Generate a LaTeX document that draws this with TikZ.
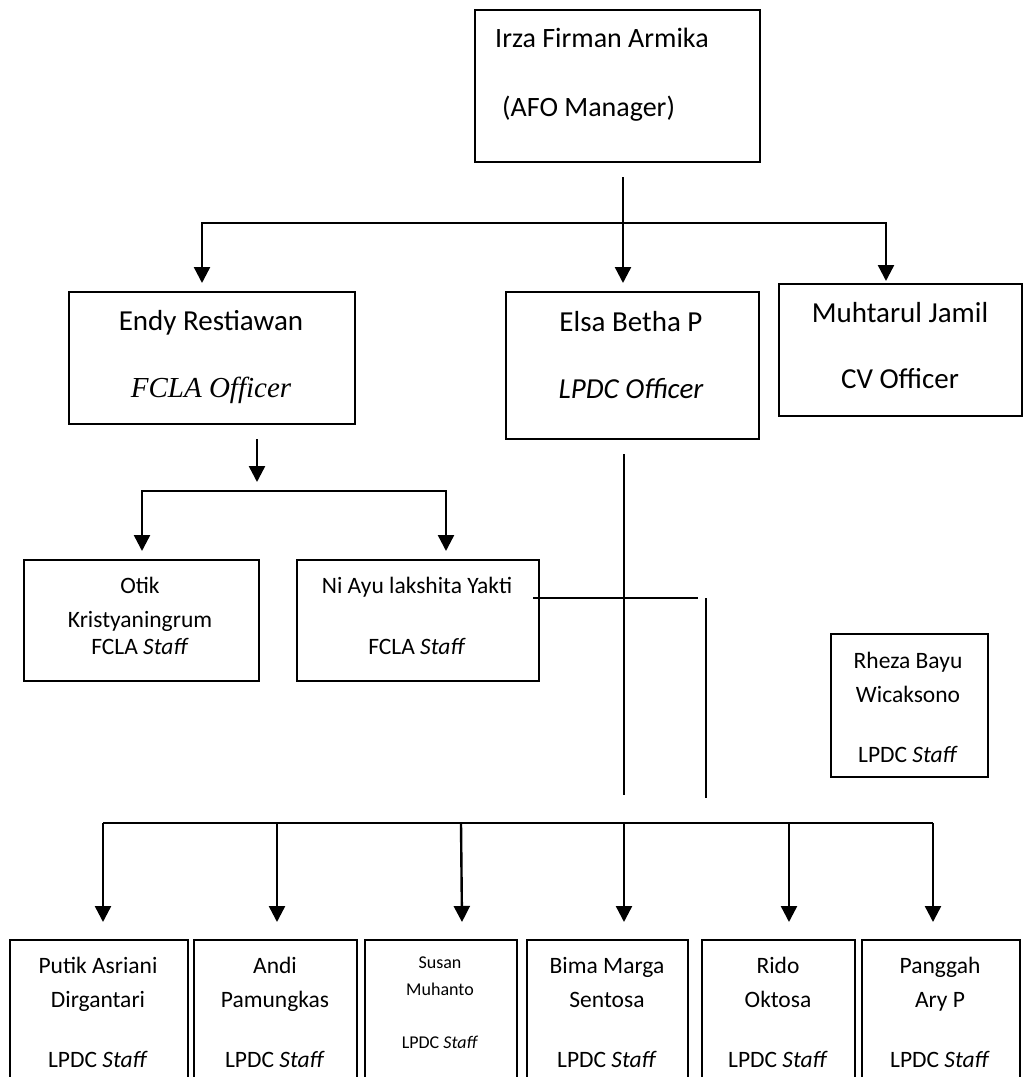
\documentclass[tikz,border=0pt]{standalone}
\usepackage{fontspec}
\setmainfont{Carlito}
\newfontfamily\timesfont{Liberation Serif}
\usetikzlibrary{arrows.meta}
\begin{document}
\begin{tikzpicture}[x=1pt,y=-1pt,
  box/.style={draw, line width=2pt, inner sep=0pt, anchor=north west},
  bigtxt/.style={anchor=base, inner sep=0pt, font=\fontsize{29}{35}\selectfont},
  toptxt/.style={anchor=base west, inner sep=0pt, font=\fontsize{28}{34}\selectfont},
  smalltxt/.style={anchor=base, inner sep=0pt, font=\fontsize{23.5}{28}\selectfont},
  tinytxt/.style={anchor=base, inner sep=0pt, font=\fontsize{18}{22}\selectfont},
  conn/.style={line width=2.4pt},
  arr/.style={line width=2.4pt, -{Triangle[width=16pt,length=16pt]}},
  thinline/.style={line width=1.9pt}]
\useasboundingbox (0,0) rectangle (1023,1077);
\clip (0,0) rectangle (1023,1077);

% boxes
\node[box, minimum width=285pt, minimum height=152pt] (irza) at (474,9) {};
\node[box, minimum width=286pt, minimum height=132pt] (endy) at (68,291) {};
\node[box, minimum width=253pt, minimum height=147pt] (elsa) at (505,291) {};
\node[box, minimum width=243pt, minimum height=132pt] (muht) at (778,283) {};
\node[box, minimum width=235pt, minimum height=121pt] (otik) at (23,559) {};
\node[box, minimum width=242pt, minimum height=121pt] (niayu) at (296,559) {};
\node[box, minimum width=157pt, minimum height=143pt] (rheza) at (830,633) {};
\node[box, minimum width=178pt, minimum height=160pt] (putik) at (9,939) {};
\node[box, minimum width=163pt, minimum height=160pt] (andi) at (193,939) {};
\node[box, minimum width=152pt, minimum height=160pt] (susan) at (364,939) {};
\node[box, minimum width=161pt, minimum height=160pt] (bima) at (526,939) {};
\node[box, minimum width=153pt, minimum height=160pt] (rido) at (701,939) {};
\node[box, minimum width=158pt, minimum height=160pt] (panggah) at (861,939) {};

% texts
\node[toptxt] (irzaA) at (495,47) {Irza Firman Armika};
\node[toptxt] (irzaB) at (502,116) {(AFO Manager)};
\node[bigtxt] (endyA) at (211,330) {Endy Restiawan};
\node[bigtxt] (endyB) at (211,397) {\timesfont\itshape FCLA Officer};
\node[bigtxt] (elsaA) at (631,331) {Elsa Betha P};
\node[bigtxt] (elsaB) at (631,398) {\itshape LPDC Officer};
\node[bigtxt] (muhtA) at (900,322) {Muhtarul Jamil};
\node[bigtxt] (muhtB) at (900,388) {CV Officer};
\node[smalltxt] (otikA) at (140,593) {Otik};
\node[smalltxt] (otikB) at (140,627) {Kristyaningrum};
\node[smalltxt] (otikC) at (140,654) {FCLA \textit{Staff}};
\node[smalltxt] (niA) at (417,593) {Ni Ayu lakshita Yakti};
\node[smalltxt] (niB) at (417,654) {FCLA \textit{Staff}};
\node[smalltxt] (rhA) at (908,668) {Rheza Bayu};
\node[smalltxt] (rhB) at (908,702) {Wicaksono};
\node[smalltxt] (rhC) at (908,762) {LPDC \textit{Staff}};
\node[smalltxt] (puA) at (98,973) {Putik Asriani};
\node[smalltxt] (puB) at (98,1007) {Dirgantari};
\node[smalltxt] (puC) at (98,1067) {LPDC \textit{Staff}};
\node[smalltxt] (anA) at (275,973) {Andi};
\node[smalltxt] (anB) at (275,1007) {Pamungkas};
\node[smalltxt] (anC) at (275,1067) {LPDC \textit{Staff}};
\node[tinytxt] (suA) at (440,968) {Susan};
\node[tinytxt] (suB) at (440,995) {Muhanto};
\node[tinytxt] (suC) at (440,1048) {LPDC \textit{Staff}};
\node[smalltxt] (biA) at (607,973) {Bima Marga};
\node[smalltxt] (biB) at (607,1007) {Sentosa};
\node[smalltxt] (biC) at (607,1067) {LPDC \textit{Staff}};
\node[smalltxt] (riA) at (778,973) {Rido};
\node[smalltxt] (riB) at (778,1007) {Oktosa};
\node[smalltxt] (riC) at (778,1067) {LPDC \textit{Staff}};
\node[smalltxt] (paA) at (940,973) {Panggah};
\node[smalltxt] (paB) at (940,1007) {Ary P};
\node[smalltxt] (paC) at (940,1067) {LPDC \textit{Staff}};

% top connectors
\coordinate (t0) at (623,177);
\coordinate (t1) at (623,223);
\coordinate (aEndy) at (202,283);
\coordinate (aElsa) at (623,283);
\coordinate (aMuh) at (886,281);
\draw[arr] (t1) -| (aEndy);
\draw[arr] (t1) -| (aMuh);
\draw[arr] (t0) -- (aElsa);

% Endy connectors
\coordinate (e0) at (257,439);
\coordinate (e1) at (257,482);
\coordinate (eM) at (294,491);
\coordinate (aOtik) at (142,551);
\coordinate (aNi) at (446,551);
\draw[arr] (e0) -- (e1);
\draw[arr] (eM) -| (aOtik);
\draw[arr] (eM) -| (aNi);

% Elsa connectors
\coordinate (s0) at (624,454);
\coordinate (s1) at (624,795);
\coordinate (h0) at (533,598);
\coordinate (h1) at (698,598);
\coordinate (v0) at (706,598);
\coordinate (v1) at (706,798);
\draw[thinline] (s0) -- (s1);
\draw[thinline] (h0) -- (h1);
\draw[thinline] (v0) -- (v1);

% bottom bar and arrows
\coordinate (bL) at (103,823);
\coordinate (bR) at (933,823);
\draw[conn] (bL) -- (bR);
\coordinate (b2) at (277,823);
\coordinate (b3) at (461,823);
\coordinate (b4) at (624,823);
\coordinate (b5) at (789,823);
\draw[arr] (bL) -- (103,922);
\draw[arr] (b2) -- (277,922);
\draw[arr] (b3) -- (462,922);
\draw[arr] (b4) -- (624,922);
\draw[arr] (b5) -- (789,922);
\draw[arr] (bR) -- (933,922);
\end{tikzpicture}
\end{document}
